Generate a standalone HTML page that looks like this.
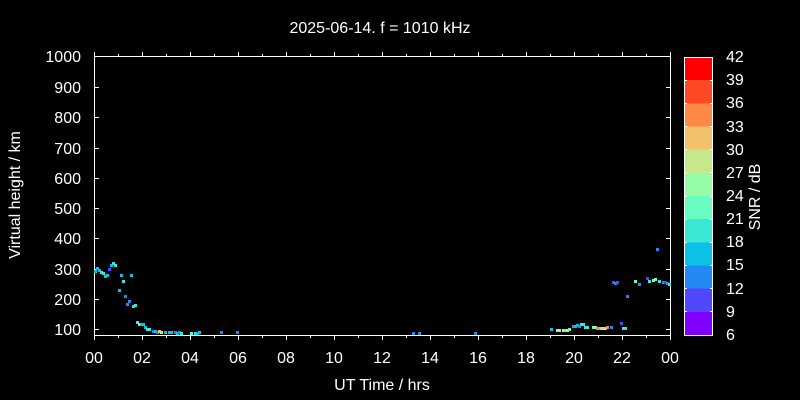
<!DOCTYPE html>
<html><head><meta charset="utf-8"><style>
html,body{margin:0;padding:0;background:#000;}
svg{display:block;}
text{font-family:"Liberation Sans",Arial,sans-serif;fill:#fff;font-size:16px;}
</style></head><body>
<svg width="800" height="400" viewBox="0 0 800 400" xmlns="http://www.w3.org/2000/svg">
<rect x="0" y="0" width="800" height="400" fill="#000"/>
<text x="380" y="33" text-anchor="middle">2025-06-14. f = 1010 kHz</text>
<g stroke="#fff" stroke-width="1" shape-rendering="crispEdges" fill="none">
<line x1="94.5" y1="52" x2="94.5" y2="340"/>
<line x1="670.5" y1="52" x2="670.5" y2="340"/>
<line x1="94" y1="56.5" x2="671" y2="56.5"/>
<line x1="94" y1="335.5" x2="671" y2="335.5"/>
<!-- y ticks -->
<path d="M94 56.5h5M94 87.5h5M94 117.5h5M94 148.5h5M94 178.5h5M94 208.5h5M94 238.5h5M94 269.5h5M94 299.5h5M94 329.5h5"/>
<path d="M671 56.5h-5M671 87.5h-5M671 117.5h-5M671 148.5h-5M671 178.5h-5M671 208.5h-5M671 238.5h-5M671 269.5h-5M671 299.5h-5M671 329.5h-5"/>
<!-- x ticks top (outward) -->
<path d="M142.5 56v-4M190.5 56v-4M238.5 56v-4M286.5 56v-4M334.5 56v-4M382.5 56v-4M430.5 56v-4M478.5 56v-4M526.5 56v-4M574.5 56v-4M622.5 56v-4"/>
<path d="M118.5 56v-2M166.5 56v-2M214.5 56v-2M262.5 56v-2M310.5 56v-2M358.5 56v-2M406.5 56v-2M454.5 56v-2M502.5 56v-2M550.5 56v-2M598.5 56v-2M646.5 56v-2"/>
<!-- x ticks bottom (outward) -->
<path d="M142.5 336v4M190.5 336v4M238.5 336v4M286.5 336v4M334.5 336v4M382.5 336v4M430.5 336v4M478.5 336v4M526.5 336v4M574.5 336v4M622.5 336v4"/>
<path d="M118.5 336v2M166.5 336v2M214.5 336v2M262.5 336v2M310.5 336v2M358.5 336v2M406.5 336v2M454.5 336v2M502.5 336v2M550.5 336v2M598.5 336v2M646.5 336v2"/>
</g>
<!-- y labels -->
<g text-anchor="end">
<text x="81" y="62">1000</text>
<text x="81" y="93">900</text>
<text x="81" y="123">800</text>
<text x="81" y="154">700</text>
<text x="81" y="184">600</text>
<text x="81" y="214">500</text>
<text x="81" y="244">400</text>
<text x="81" y="275">300</text>
<text x="81" y="305">200</text>
<text x="81" y="335">100</text>
</g>
<!-- x labels -->
<g text-anchor="middle">
<text x="94" y="363">00</text>
<text x="142" y="363">02</text>
<text x="190" y="363">04</text>
<text x="238" y="363">06</text>
<text x="286" y="363">08</text>
<text x="334" y="363">10</text>
<text x="382" y="363">12</text>
<text x="430" y="363">14</text>
<text x="478" y="363">16</text>
<text x="526" y="363">18</text>
<text x="574" y="363">20</text>
<text x="622" y="363">22</text>
<text x="670" y="363">00</text>
</g>
<text x="382" y="390" text-anchor="middle">UT Time / hrs</text>
<text transform="translate(20,195) rotate(-90)" text-anchor="middle">Virtual height / km</text>
<text transform="translate(760,197) rotate(-90)" text-anchor="middle">SNR / dB</text>

<!-- colorbar -->
<g shape-rendering="crispEdges">
<rect x="684" y="57" width="28" height="23.2" fill="#ff0000"/>
<rect x="684" y="80.2" width="28" height="23.2" fill="#ff4824"/>
<rect x="684" y="103.3" width="28" height="23.2" fill="#ff8a48"/>
<rect x="684" y="126.5" width="28" height="23.2" fill="#f3c16a"/>
<rect x="684" y="149.7" width="28" height="23.2" fill="#c5e88a"/>
<rect x="684" y="172.8" width="28" height="23.2" fill="#97fca7"/>
<rect x="684" y="196" width="28" height="23.2" fill="#68fcc1"/>
<rect x="684" y="219.2" width="28" height="23.2" fill="#3ae8d6"/>
<rect x="684" y="242.3" width="28" height="23.2" fill="#0cc1e8"/>
<rect x="684" y="265.5" width="28" height="23.2" fill="#238af5"/>
<rect x="684" y="288.7" width="28" height="23.2" fill="#5148fc"/>
<rect x="684" y="311.8" width="28" height="23.2" fill="#8000ff"/>
<rect x="684.5" y="57.5" width="28" height="278" fill="none" stroke="#fff" stroke-width="1"/>
<path stroke="#fff" stroke-width="1" d="M684 80.5h3M684 103.5h3M684 126.5h3M684 149.5h3M684 172.5h3M684 196.5h3M684 219.5h3M684 242.5h3M684 265.5h3M684 288.5h3M684 311.5h3M713 80.5h-3M713 103.5h-3M713 126.5h-3M713 149.5h-3M713 172.5h-3M713 196.5h-3M713 219.5h-3M713 242.5h-3M713 265.5h-3M713 288.5h-3M713 311.5h-3"/>
</g>
<g>
<text x="726" y="62">42</text>
<text x="726" y="85">39</text>
<text x="726" y="108">36</text>
<text x="726" y="132">33</text>
<text x="726" y="155">30</text>
<text x="726" y="178">27</text>
<text x="726" y="201">24</text>
<text x="726" y="224">21</text>
<text x="726" y="247">18</text>
<text x="726" y="270">15</text>
<text x="726" y="294">12</text>
<text x="726" y="317">9</text>
<text x="726" y="340">6</text>
</g>

<!-- data points -->
<g shape-rendering="crispEdges">
<rect x="96" y="267" width="3" height="3" fill="#0cc1e8"/>
<rect x="94" y="270" width="3" height="3" fill="#0cc1e8"/>
<rect x="98" y="269" width="3" height="3" fill="#0cc1e8"/>
<rect x="100" y="271" width="3" height="3" fill="#3ae8d6"/>
<rect x="102" y="272" width="3" height="3" fill="#3ae8d6"/>
<rect x="104" y="275" width="3" height="3" fill="#0cc1e8"/>
<rect x="106" y="274" width="3" height="3" fill="#0cc1e8"/>
<rect x="108" y="268" width="3" height="3" fill="#5148fc"/>
<rect x="110" y="264" width="3" height="3" fill="#0cc1e8"/>
<rect x="112" y="262" width="3" height="3" fill="#3ae8d6"/>
<rect x="114" y="264" width="3" height="3" fill="#3ae8d6"/>
<rect x="120" y="274" width="3" height="3" fill="#0cc1e8"/>
<rect x="130" y="274" width="3" height="3" fill="#0cc1e8"/>
<rect x="122" y="280" width="3" height="3" fill="#3ae8d6"/>
<rect x="118" y="289" width="3" height="3" fill="#0cc1e8"/>
<rect x="124" y="295" width="3" height="3" fill="#238af5"/>
<rect x="128" y="300" width="3" height="3" fill="#238af5"/>
<rect x="126" y="303" width="3" height="3" fill="#238af5"/>
<rect x="132" y="305" width="3" height="3" fill="#3ae8d6"/>
<rect x="134" y="304" width="3" height="3" fill="#3ae8d6"/>
<rect x="136" y="321" width="3" height="3" fill="#3ae8d6"/>
<rect x="138" y="323" width="3" height="3" fill="#f3c16a"/>
<rect x="140" y="323" width="3" height="3" fill="#0cc1e8"/>
<rect x="142" y="323" width="3" height="3" fill="#0cc1e8"/>
<rect x="144" y="326" width="3" height="3" fill="#0cc1e8"/>
<rect x="146" y="328" width="3" height="3" fill="#3ae8d6"/>
<rect x="148" y="328" width="3" height="3" fill="#3ae8d6"/>
<rect x="152" y="330" width="3" height="3" fill="#238af5"/>
<rect x="154" y="330" width="3" height="3" fill="#0cc1e8"/>
<rect x="156" y="331" width="3" height="3" fill="#238af5"/>
<rect x="158" y="330" width="3" height="3" fill="#f3c16a"/>
<rect x="160" y="331" width="3" height="3" fill="#c5e88a"/>
<rect x="164" y="331" width="3" height="3" fill="#0cc1e8"/>
<rect x="168" y="331" width="3" height="3" fill="#0cc1e8"/>
<rect x="170" y="331" width="3" height="3" fill="#0cc1e8"/>
<rect x="174" y="331" width="3" height="3" fill="#238af5"/>
<rect x="176" y="332" width="3" height="3" fill="#0cc1e8"/>
<rect x="178" y="331" width="3" height="3" fill="#238af5"/>
<rect x="180" y="332" width="3" height="3" fill="#3ae8d6"/>
<rect x="190" y="332" width="3" height="3" fill="#68fcc1"/>
<rect x="194" y="332" width="3" height="3" fill="#3ae8d6"/>
<rect x="196" y="332" width="3" height="3" fill="#0cc1e8"/>
<rect x="198" y="331" width="3" height="3" fill="#0cc1e8"/>
<rect x="220" y="331" width="3" height="3" fill="#238af5"/>
<rect x="236" y="331" width="3" height="3" fill="#238af5"/>
<rect x="412" y="332" width="3" height="3" fill="#238af5"/>
<rect x="418" y="332" width="3" height="3" fill="#238af5"/>
<rect x="474" y="332" width="3" height="3" fill="#238af5"/>
<rect x="550" y="328" width="3" height="3" fill="#0cc1e8"/>
<rect x="556" y="329" width="3" height="3" fill="#97fca7"/>
<rect x="558" y="329" width="3" height="3" fill="#97fca7"/>
<rect x="562" y="329" width="3" height="3" fill="#97fca7"/>
<rect x="564" y="329" width="3" height="3" fill="#f3c16a"/>
<rect x="566" y="329" width="3" height="3" fill="#97fca7"/>
<rect x="568" y="328" width="3" height="3" fill="#68fcc1"/>
<rect x="572" y="325" width="3" height="3" fill="#238af5"/>
<rect x="574" y="325" width="3" height="3" fill="#0cc1e8"/>
<rect x="576" y="324" width="3" height="3" fill="#0cc1e8"/>
<rect x="578" y="325" width="3" height="3" fill="#238af5"/>
<rect x="580" y="323" width="3" height="3" fill="#3ae8d6"/>
<rect x="582" y="323" width="3" height="3" fill="#3ae8d6"/>
<rect x="584" y="326" width="3" height="3" fill="#3ae8d6"/>
<rect x="586" y="326" width="3" height="3" fill="#3ae8d6"/>
<rect x="592" y="326" width="3" height="3" fill="#68fcc1"/>
<rect x="594" y="326" width="3" height="3" fill="#97fca7"/>
<rect x="596" y="327" width="3" height="3" fill="#ff8a48"/>
<rect x="598" y="327" width="3" height="3" fill="#ff8a48"/>
<rect x="600" y="327" width="3" height="3" fill="#f3c16a"/>
<rect x="602" y="327" width="3" height="3" fill="#c5e88a"/>
<rect x="604" y="327" width="3" height="3" fill="#97fca7"/>
<rect x="606" y="326" width="3" height="3" fill="#ff8a48"/>
<rect x="610" y="326" width="3" height="3" fill="#238af5"/>
<rect x="612" y="281" width="3" height="3" fill="#5148fc"/>
<rect x="614" y="282" width="3" height="3" fill="#238af5"/>
<rect x="616" y="281" width="3" height="3" fill="#5148fc"/>
<rect x="620" y="322" width="3" height="3" fill="#5148fc"/>
<rect x="622" y="327" width="3" height="3" fill="#3ae8d6"/>
<rect x="624" y="327" width="3" height="3" fill="#3ae8d6"/>
<rect x="626" y="295" width="3" height="3" fill="#238af5"/>
<rect x="634" y="280" width="3" height="3" fill="#68fcc1"/>
<rect x="638" y="283" width="3" height="3" fill="#238af5"/>
<rect x="646" y="277" width="3" height="3" fill="#5148fc"/>
<rect x="648" y="280" width="3" height="3" fill="#3ae8d6"/>
<rect x="652" y="279" width="3" height="3" fill="#68fcc1"/>
<rect x="654" y="278" width="3" height="3" fill="#68fcc1"/>
<rect x="658" y="280" width="3" height="3" fill="#3ae8d6"/>
<rect x="662" y="281" width="3" height="3" fill="#238af5"/>
<rect x="664" y="281" width="3" height="3" fill="#5148fc"/>
<rect x="666" y="282" width="3" height="3" fill="#238af5"/>
<rect x="668" y="283" width="3" height="3" fill="#3ae8d6"/>
<rect x="656" y="248" width="3" height="3" fill="#238af5"/>
</g>
</svg>
</body></html>
